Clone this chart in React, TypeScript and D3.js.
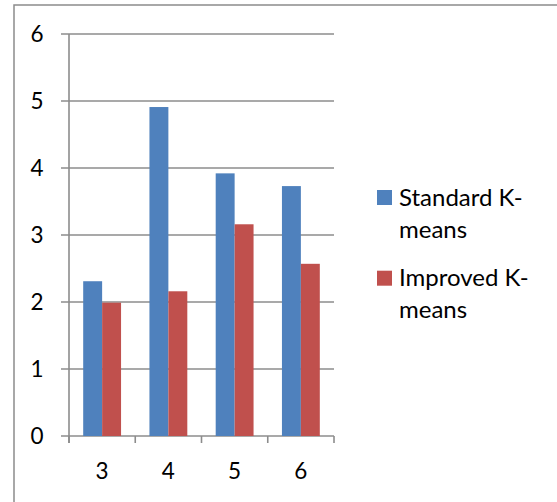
import React from "react";
import * as d3 from "d3";

const categories = ["3", "4", "5", "6"];
const standardKMeans = [2.31, 4.91, 3.92, 3.73];
const improvedKMeans = [1.99, 2.16, 3.16, 2.57];
const yTicks = [0, 1, 2, 3, 4, 5, 6];
const seriesNames = [["Standard K-", "means"], ["Improved K-", "means"]];
const colors = ["#4F81BD", "#C0504D"];

const W = 557, H = 502;
const plotLeft = 69, plotRight = 334, plotTop = 34, plotBottom = 436;
const FONT = "Lato, 'Noto Sans', sans-serif";

export default function App() {
  const x = d3.scaleBand<string>().domain(categories).range([plotLeft, plotRight]).paddingInner(0).paddingOuter(0);
  const y = d3.scaleLinear().domain([0, 6]).range([plotBottom, plotTop]);
  const bw = x.bandwidth();
  const barW = bw / 3.5;
  const series = [standardKMeans, improvedKMeans];
  return (
    <svg width={W} height={H} style={{ position: "absolute", left: 0, top: 0 }}>
      <rect x={0} y={0} width={W} height={H} fill="#fff" />
      <rect x={14} y={5} width={W + 20} height={H + 20} fill="none" stroke="#8c8c8c" strokeWidth={1.5} />
      {yTicks.map((t) => (
        <g key={t}>
          <line x1={61} x2={plotRight} y1={y(t)} y2={y(t)} stroke="#8c8c8c" strokeWidth={1.6} />
          <text x={43.5} y={y(t)} dy="0.36em" textAnchor="end" fontFamily={FONT} fontSize={22.5} fill="#000">{t}</text>
        </g>
      ))}
      <line x1={plotLeft} x2={plotLeft} y1={plotTop} y2={443} stroke="#8c8c8c" strokeWidth={1.6} />
      {d3.range(categories.length + 1).map((i) => {
        const xx = plotLeft + i * bw;
        return <line key={i} x1={xx} x2={xx} y1={plotBottom} y2={443} stroke="#8c8c8c" strokeWidth={1.6} />;
      })}
      {series.map((vals, si) =>
        vals.map((v, ci) => {
          const x0 = (x(categories[ci]) as number) + barW * 0.75 + si * barW;
          return <rect key={si + "-" + ci} x={x0} y={y(v)} width={barW} height={y(0) - y(v)} fill={colors[si]} />;
        })
      )}
      {categories.map((c) => (
        <text key={c} x={(x(c) as number) + bw / 2} y={479} textAnchor="middle" fontFamily={FONT} fontSize={22.5} fill="#000">{c}</text>
      ))}
      {seriesNames.map((lines, si) => (
        <g key={si}>
          <rect x={377} y={190 + si * 80.7} width={15} height={15} fill={colors[si]} />
          {lines.map((l, li) => (
            <text key={li} x={399} y={205.5 + si * 80 + li * 32} fontFamily={FONT} fontSize={24} fill="#000">{l}</text>
          ))}
        </g>
      ))}
    </svg>
  );
}
